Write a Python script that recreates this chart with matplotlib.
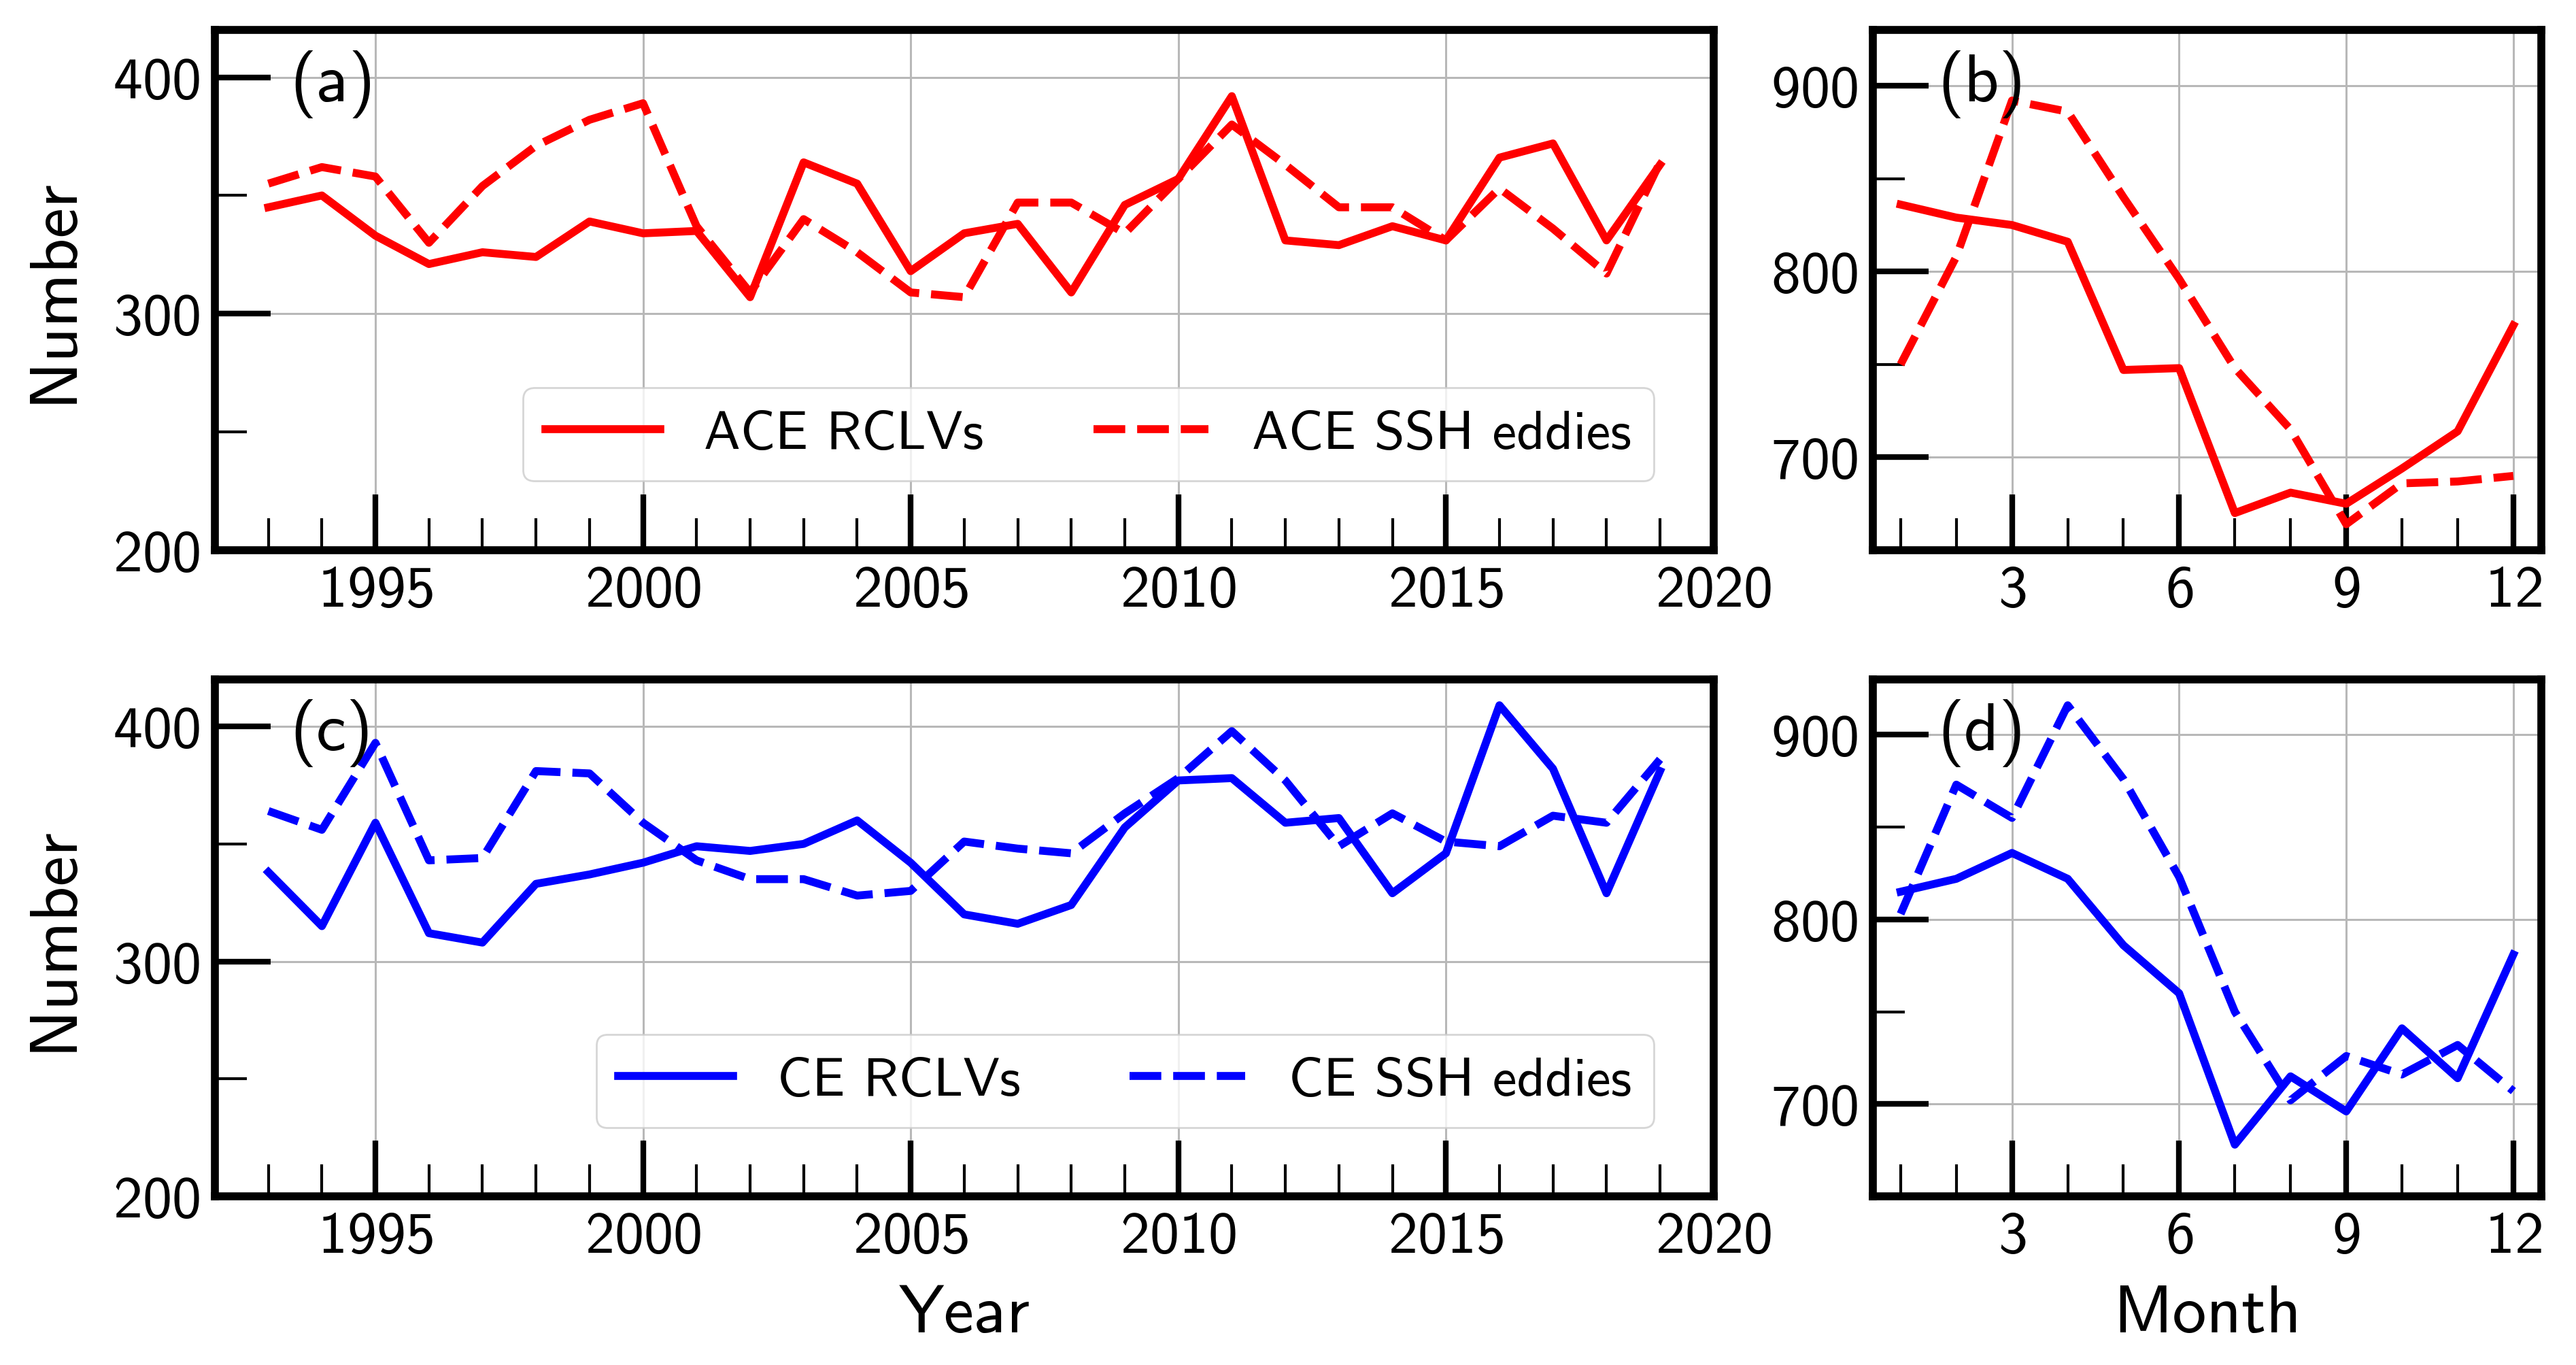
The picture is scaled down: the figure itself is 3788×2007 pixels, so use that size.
import matplotlib
matplotlib.use('Agg')
import matplotlib.pyplot as plt
from matplotlib.ticker import MultipleLocator, FixedLocator

plt.rcParams['font.family'] = 'cmss10'
plt.rcParams['mathtext.fontset'] = 'cm'
plt.rcParams['axes.formatter.use_mathtext'] = True

# Yearly counts 1993-2019
years = list(range(1993, 2020))
ace_rclv = [345, 350, 333, 321, 326, 324, 339, 334, 335, 307, 364, 355, 318, 334,
            338, 309, 346, 357, 392, 331, 329, 337, 331, 366, 372, 331, 363]
ace_ssh = [355, 362, 358, 330, 354, 371, 382, 389, 337, 309, 340, 326, 309, 307,
           347, 347, 334, 357, 380, 363, 345, 345, 331, 353, 336, 317, 364]
ce_rclv = [338, 315, 359, 312, 308, 333, 337, 342, 349, 347, 350, 360, 342, 320,
           316, 324, 357, 377, 378, 359, 361, 329, 346, 409, 382, 329, 381]
ce_ssh = [364, 356, 393, 343, 344, 381, 380, 359, 343, 335, 335, 328, 330, 351,
          348, 346, 363, 378, 398, 377, 349, 363, 351, 349, 362, 359, 386]

# Monthly counts 1-12
months = list(range(1, 13))
ace_rclv_m = [836, 829, 825, 816, 747, 748, 670, 681, 675, 694, 714, 771]
ace_ssh_m = [750, 808, 892, 886, 840, 796, 748, 715, 664, 686, 687, 690]
ce_rclv_m = [815, 822, 836, 822, 786, 760, 678, 715, 696, 741, 714, 781]
ce_ssh_m = [803, 873, 855, 916, 876, 823, 750, 702, 726, 716, 732, 707]

LW = 4.2
DASH = (4.0, 1.5)
TICK_FS = 31
LABEL_FS = 36


def style_axis(ax):
    for sp in ax.spines.values():
        sp.set_linewidth(4.2)
    ax.tick_params(which='both', direction='in', top=False, right=False,
                   labelsize=TICK_FS, pad=8)
    ax.tick_params(which='major', length=29.5, width=3.0)
    ax.tick_params(which='minor', length=17, width=1.5)
    ax.grid(True, which='major', color='#b8b8b8', lw=1.1)
    ax.set_axisbelow(True)


fig = plt.figure(figsize=(18.94, 10.04), dpi=200)
ax_a = fig.add_axes([0.0834, 0.5966, 0.5818, 0.381])
ax_b = fig.add_axes([0.727, 0.5966, 0.2595, 0.381])
ax_c = fig.add_axes([0.0834, 0.1235, 0.5818, 0.3785])
ax_d = fig.add_axes([0.727, 0.1235, 0.2595, 0.3785])

# yearly panels
for ax, rclv, ssh, col, lab, tag in [(ax_a, ace_rclv, ace_ssh, 'red', 'ACE', '(a)'),
                                     (ax_c, ce_rclv, ce_ssh, 'blue', 'CE', '(c)')]:
    ax.plot(years, rclv, '-', color=col, lw=LW, label=f'{lab} RCLVs')
    ax.plot(years, ssh, '--', color=col, lw=LW, dashes=DASH, label=f'{lab} SSH eddies')
    ax.set_xlim(1992, 2020)
    ax.set_ylim(200, 420)
    ax.xaxis.set_major_locator(MultipleLocator(5))
    ax.xaxis.set_minor_locator(MultipleLocator(1))
    ax.yaxis.set_major_locator(MultipleLocator(100))
    ax.yaxis.set_minor_locator(MultipleLocator(50))
    style_axis(ax)
    ax.text(0.05, 0.897, tag, transform=ax.transAxes, fontsize=36,
            ha='left', va='center')
    ax.legend(loc='lower right', bbox_to_anchor=(0.96, 0.133), borderaxespad=0,
              ncol=2, fontsize=29, handlelength=2.1, columnspacing=2.0,
              edgecolor='#cccccc')

# monthly panels
for ax, rclv, ssh, col, tag in [(ax_b, ace_rclv_m, ace_ssh_m, 'red', '(b)'),
                                (ax_d, ce_rclv_m, ce_ssh_m, 'blue', '(d)')]:
    ax.plot(months, rclv, '-', color=col, lw=LW)
    ax.plot(months, ssh, '--', color=col, lw=LW, dashes=DASH)
    ax.set_xlim(0.5, 12.5)
    ax.set_ylim(650, 930)
    ax.xaxis.set_major_locator(FixedLocator([3, 6, 9, 12]))
    ax.xaxis.set_minor_locator(MultipleLocator(1))
    ax.yaxis.set_major_locator(MultipleLocator(100))
    ax.yaxis.set_minor_locator(MultipleLocator(50))
    style_axis(ax)
    ax.text(0.097, 0.897, tag, transform=ax.transAxes, fontsize=36,
            ha='left', va='center')

ax_c.set_xlabel('Year', fontsize=LABEL_FS, labelpad=11)
ax_d.set_xlabel('Month', fontsize=LABEL_FS, labelpad=11)
fig.text(0.0211, 0.5966 + 0.381 / 2, 'Number', rotation=90, fontsize=LABEL_FS,
         ha='center', va='center')
fig.text(0.0211, 0.1235 + 0.3785 / 2, 'Number', rotation=90, fontsize=LABEL_FS,
         ha='center', va='center')

fig.savefig('out.png', dpi=200)
